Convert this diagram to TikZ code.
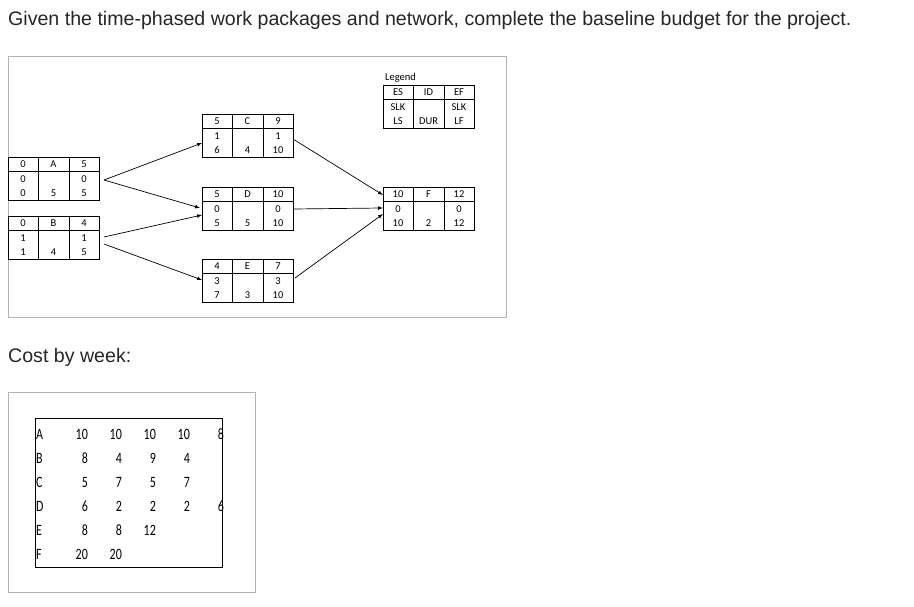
\documentclass[tikz,border=0pt]{standalone}
\usepackage{fontspec}
\setmainfont{Liberation Sans}
\newfontfamily\carlfont{Carlito}
\begin{document}
\begin{tikzpicture}[x=1pt,y=-1pt,
  cell/.style={font=\carlfont\fontsize{10.5}{11}\selectfont,inner sep=0pt},
  tab/.style={font=\carlfont\fontsize{15}{16}\selectfont,inner sep=0pt,xscale=0.8,yscale=1.05},
  arr/.style={-latex,line width=0.7pt},
  panel/.style={draw=black!30,line width=0.8pt}]
\useasboundingbox (0,0) rectangle (914,607);
\node[anchor=west,inner sep=0pt,font=\fontsize{19.6}{22}\selectfont,text=black!85] (title) at (8,20) {Given the time-phased work packages and network, complete the baseline budget for the project.};
\draw[panel] (8,56) rectangle (506,317);
\newcommand{\tnode}[5]{%
  \coordinate (#1) at (#2,#3);
  \draw[line width=0.6pt] (#2,#3) rectangle ++(91,43.5);
  \draw[line width=0.6pt] (#2+30,#3) -- ++(0,43.5) (#2+61,#3) -- ++(0,43.5) (#2,#3+14.5) -- ++(91,0);
  \foreach \t [count=\i from 0] in {#4} {
    \pgfmathtruncatemacro\r{int(\i/3)}\pgfmathtruncatemacro\c{mod(\i,3)}
    \node[cell] at (#2+15+\c*30.5,#3+7.25+\r*14.5) {\t};}
}
\tnode{A}{8}{157}{0,A,5,0,,0,0,5,5}{}
\tnode{B}{8}{216}{0,B,4,1,,1,1,4,5}{}
\tnode{C}{202}{114}{5,C,9,1,,1,6,4,10}{}
\tnode{D}{202}{187}{5,D,10,0,,0,5,5,10}{}
\tnode{E}{202}{259}{4,E,7,3,,3,7,3,10}{}
\tnode{F}{383}{187}{10,F,12,0,,0,10,2,12}{}
\tnode{L}{383}{85}{ES,ID,EF,SLK,,SLK,LS,DUR,LF}{}
\node[cell,anchor=west] (legend) at (385,78) {Legend};
\draw[arr] ([shift={(96,23)}]A) -- ([shift={(0,29)}]C);
\draw[arr] ([shift={(96,23)}]A) -- ([shift={(-2,21)}]D);
\draw[arr] ([shift={(96,21)}]B) -- ([shift={(0,28)}]D);
\draw[arr] ([shift={(96,28)}]B) -- ([shift={(0,21)}]E);
\draw[arr] ([shift={(91,25)}]C) -- ([shift={(0,8)}]F);
\draw[arr] ([shift={(91,22)}]D) -- ([shift={(0,21)}]F);
\draw[arr] ([shift={(93,19)}]E) -- ([shift={(0,27)}]F);
\node[anchor=west,inner sep=0pt,font=\fontsize{19.6}{22}\selectfont,text=black!85] (cost) at (8,357) {Cost by week:};
\draw[panel] (8,392) rectangle (255,592);
\draw[line width=1pt] (35,418) rectangle (222,567);
\foreach \row [count=\j from 0] in {{A,10,10,10,10,8},{B,8,4,9,4,},{C,5,7,5,7,},{D,6,2,2,2,6},{E,8,8,12,,},{F,20,20,,,}} {
  \foreach \v [count=\k from 0] in \row {
    \ifnum\k=0 \node[tab,anchor=west] at (36,434+\j*24) {\v};
    \else \node[tab,anchor=east] at (54+\k*34,434+\j*24) {\v};\fi }}
\end{tikzpicture}
\end{document}
